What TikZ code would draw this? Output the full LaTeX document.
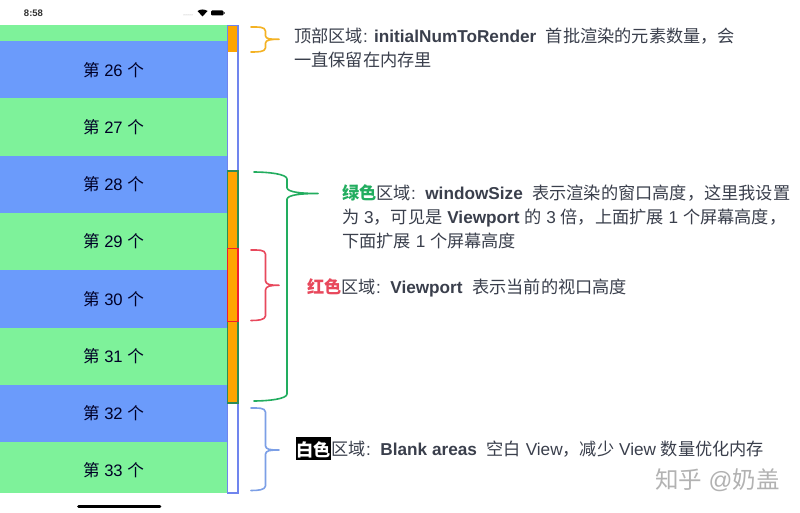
\documentclass[tikz,border=0pt]{standalone}
\usepackage{fontspec}
\setmainfont{Liberation Sans}
\newfontfamily\cjk{Noto Sans CJK SC}
\newcommand{\C}[1]{{\cjk #1}}
\definecolor{rowgreen}{HTML}{7EF29A}
\definecolor{rowblue}{HTML}{6B9BFB}
\definecolor{barorange}{HTML}{FFA500}
\definecolor{barblue}{HTML}{7085EE}
\definecolor{bargreen}{HTML}{2E8B57}
\definecolor{barred}{HTML}{F01E30}
\definecolor{txt}{HTML}{3A3F4C}
\definecolor{bgreen}{HTML}{22AD5F}
\definecolor{bred}{HTML}{E8485C}
\definecolor{bblue}{HTML}{7C9FE6}
\definecolor{byellow}{HTML}{F4B223}
\tikzset{
  rowlabel/.style={font=\fontsize{16.6}{17}\selectfont, text=black!85!blue, anchor=center, inner sep=0pt},
  note/.style={font=\fontsize{17.2}{24}\selectfont, text=txt, anchor=west, align=left, inner sep=0pt},
  brace/.style={line width=1.6pt, line cap=round, line join=round}
}
\begin{document}
\begin{tikzpicture}[x=1pt,y=-1pt]
\useasboundingbox (0,0) rectangle (800,513);
\fill[white] (0,0) rectangle (800,513);
% rows
\fill[rowgreen] (0,25) rectangle (227,41);
\fill[rowblue]  (0,41) rectangle (227,98);
\fill[rowgreen] (0,98) rectangle (227,156);
\fill[rowblue]  (0,156) rectangle (227,213);
\fill[rowgreen] (0,213) rectangle (227,270);
\fill[rowblue]  (0,270) rectangle (227,328);
\fill[rowgreen] (0,328) rectangle (227,385);
\fill[rowblue]  (0,385) rectangle (227,442);
\fill[rowgreen] (0,442) rectangle (227,493);
\node[rowlabel] (r26) at (113.5,70) {\C{第} 26 \C{个}};
\node[rowlabel] (r27) at (113.5,127) {\C{第} 27 \C{个}};
\node[rowlabel] (r28) at (113.5,184.5) {\C{第} 28 \C{个}};
\node[rowlabel] (r29) at (113.5,241.5) {\C{第} 29 \C{个}};
\node[rowlabel] (r30) at (113.5,299) {\C{第} 30 \C{个}};
\node[rowlabel] (r31) at (113.5,356) {\C{第} 31 \C{个}};
\node[rowlabel] (r32) at (113.5,413) {\C{第} 32 \C{个}};
\node[rowlabel] (r33) at (113.5,470) {\C{第} 33 \C{个}};
% scroll bar: outer frame colour first, inner colour inset
\fill[barblue] (226.5,25) rectangle (238.5,493.5);
\fill[white] (228,26.2) rectangle (237,492.3);
\fill[barorange] (228,26.2) rectangle (237,52);
\fill[bargreen] (226.5,170.5) rectangle (238.5,403.5);
\fill[barorange] (228,171.7) rectangle (237,402.3);
\fill[barred] (226.5,248) rectangle (238.5,322);
\fill[barorange] (228,249.2) rectangle (237,320.8);
% braces
\draw[brace, byellow] (251,27) .. controls (258,27) and (265,26.5) .. (265.5,31) -- (265.5,36)
  .. controls (266,39) and (270,39.3) .. (279,39.3)
  .. controls (270,39.3) and (266,40) .. (265.5,43) -- (265.5,48)
  .. controls (265,52) and (258,52) .. (251,52);
\draw[brace, bgreen] (254,172) .. controls (268,172) and (287,174) .. (287,179) -- (287,188)
  .. controls (288,192) and (300,193.5) .. (318,193.5)
  .. controls (300,193.5) and (288,195) .. (287,199) -- (287,394)
  .. controls (287,399) and (268,401) .. (254,401);
\draw[brace, bred] (251,250) .. controls (258,250) and (265,249.5) .. (265.5,254) -- (265.5,281)
  .. controls (266,284.5) and (270,285.3) .. (279,285.3)
  .. controls (270,285.3) and (266,286) .. (265.5,290) -- (265.5,316)
  .. controls (265,320) and (258,320.5) .. (251,320.5);
\draw[brace, bblue] (251,408) .. controls (258,408) and (265,407.5) .. (265.5,412) -- (265.5,446)
  .. controls (266,449.5) and (270,450) .. (279,450)
  .. controls (270,450) and (266,450.5) .. (265.5,454) -- (265.5,486)
  .. controls (265,490) and (258,490.5) .. (251,490.5);
% notes
\node[note] (top) at (294,48) {\C{顶部区域}: \textbf{initialNumToRender}\ \ \C{首批渲染的元素数量，会}\\\C{一直保留在内存里}};
\node[note] (win) at (342,217) {\textbf{\textcolor{bgreen}{\C{绿色}}}\C{区域}:\ \ \textbf{windowSize}\ \ \C{表示渲染的窗口高度，这里我设置}\\\C{为} 3\C{，可见是} \textbf{Viewport} \C{的} 3 \C{倍，上面扩展} 1 \C{个屏幕高度，}\\\C{下面扩展} 1 \C{个屏幕高度}};
\node[note] (view) at (307,288) {\textbf{\textcolor{bred}{\C{红色}}}\C{区域}:\ \ \textbf{Viewport}\ \ \C{表示当前的视口高度}};
\fill[black] (296,436.5) rectangle (331,460);
\node[note, text=white] (whitelab) at (296.3,449.5) {\textbf{\C{白色}}};
\node[note] (blank) at (331.5,449.5) {\C{区域}:\ \ \textbf{Blank areas}\ \ \C{空白} View\C{，减少} View \C{数量优化内存}};
% watermark
\node[anchor=west, inner sep=0pt, text=black!30, font=\fontsize{23.5}{24}\selectfont] (mark) at (655,480) {\C{知乎} @\C{奶盖}};
% status bar
\node[anchor=center, inner sep=0pt, font=\fontsize{9.5}{10}\selectfont\bfseries, text=black!80] (clock) at (33.5,13) {8:58};
\fill[black!35] (184,15) circle (0.5) (186,15) circle (0.5) (188,15) circle (0.5) (190,15) circle (0.5) (192,15) circle (0.5);
\fill[black] (197.5,11) .. controls (200,9) and (205,9) .. (207.5,11) -- (202.5,16.5) -- cycle;
\fill[black, rounded corners=1.2pt] (211,10.5) rectangle (223.5,15.5);
\fill[black!60] (224,12) rectangle (225,14);
% home indicator
\draw[black, line width=2.6pt, line cap=round] (78.5,506.5) -- (160,506.5);
\end{tikzpicture}
\end{document}
